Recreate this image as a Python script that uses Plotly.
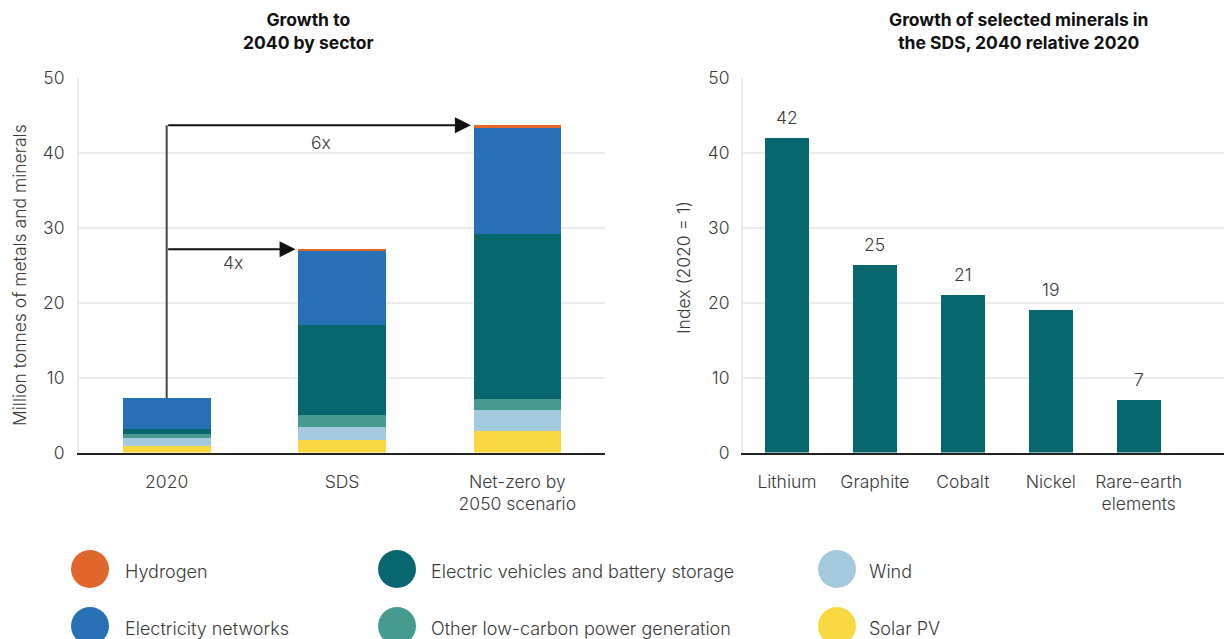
import plotly.graph_objects as go

# ---- data -------------------------------------------------------------
scenarios = ["2020", "SDS", "Net-zero by<br>2050 scenario"]
sectors = [
    "Solar PV",
    "Wind",
    "Other low-carbon power generation",
    "Electric vehicles and battery storage",
    "Electricity networks",
    "Hydrogen",
]
solar_pv = [0.9, 1.67, 2.87]
wind = [1.03, 1.73, 2.8]
other_low_carbon = [0.53, 1.6, 1.47]
ev_battery = [0.67, 12.0, 22.0]
networks = [4.13, 10.0, 14.1]
hydrogen = [0.0, 0.1, 0.4]

growth_labels = ["4x", "6x"]

minerals = ["Lithium", "Graphite", "Cobalt", "Nickel", "Rare-earth<br>elements"]
index_2040 = [42, 25, 21, 19, 7]

colors = {
    "Hydrogen": "#E0672B",
    "Electricity networks": "#2770B5",
    "Electric vehicles and battery storage": "#07666E",
    "Other low-carbon power generation": "#459B8D",
    "Wind": "#A4CADD",
    "Solar PV": "#F8D841",
}

# ---- page geometry ----------------------------------------------------
W, H = 1224, 639


def px(x):
    return x / W


def py(y):
    return 1 - y / H


FONT = "Inter"
TXT = "#3a3a3a"
LIGHT = 300


def tfont(size=17, weight=LIGHT, color=TXT):
    return dict(family=FONT, size=size, color=color, weight=weight)


fig = go.Figure()

series = [solar_pv, wind, other_low_carbon, ev_battery, networks, hydrogen]
for name, vals in zip(sectors, series):
    fig.add_trace(go.Bar(
        x=scenarios, y=vals, name=name, marker_color=colors[name],
        marker_line_width=0, width=0.5, xaxis="x", yaxis="y",
        showlegend=False, hoverinfo="x+y+name",
    ))

fig.add_trace(go.Bar(
    x=minerals, y=index_2040, marker_color="#07666E", marker_line_width=0,
    width=0.5, xaxis="x2", yaxis="y2", showlegend=False,
))

totals = [sum(v) for v in zip(*series)]

# ---- axes -------------------------------------------------------------
ydom = [py(452.5), py(77.5)]
common_y = dict(
    range=[0, 50], dtick=10, domain=ydom, showgrid=True, gridcolor="#ebebeb",
    gridwidth=2, zeroline=False, showline=True, linecolor="#ebebeb",
    linewidth=2, ticks="", tickfont=tfont(17.5), automargin=False,
)
common_x = dict(
    showline=True, linecolor="#222222", linewidth=2, ticks="",
    tickfont=tfont(17.5), ticklabelstandoff=12, automargin=False,
)

fig.update_layout(
    width=W, height=H, margin=dict(l=0, r=0, t=0, b=0, autoexpand=False),
    paper_bgcolor="white", plot_bgcolor="white", barmode="stack",
    font=dict(family=FONT, color=TXT),
    xaxis=dict(common_x, domain=[px(79), px(605)], range=[-0.5, 2.5],
               anchor="y"),
    yaxis=dict(common_y, anchor="x", ticklabelstandoff=9),
    xaxis2=dict(common_x, domain=[px(743), 1.0], range=[-0.5, 4.97],
                anchor="y2"),
    yaxis2=dict(common_y, anchor="x2", ticklabelstandoff=8),
)

shapes = []
annotations = []

# growth arrows from the 2020 total to each scenario total
shapes.append(dict(type="line", xref="x", yref="y", x0=0, x1=0,
                   y0=totals[0], y1=totals[2],
                   line=dict(color="#444444", width=2)))
for tip_x, tot, lbl, lx, ly in [(0.735, totals[1], growth_labels[0], 0.376, 25.3),
                                (1.735, totals[2], growth_labels[1], 0.88, 41.4)]:
    annotations.append(dict(
        xref="x", yref="y", axref="x", ayref="y", x=tip_x, y=tot, ax=0, ay=tot,
        text="", showarrow=True, arrowhead=2, arrowsize=1.6, arrowwidth=2,
        arrowcolor="#111111",
    ))
    annotations.append(dict(
        xref="x", yref="y", x=lx, y=ly, text=lbl, showarrow=False,
        xanchor="center", yanchor="middle", font=tfont(17.5),
    ))

# value labels on the mineral bars
for m, v in zip(minerals, index_2040):
    annotations.append(dict(
        xref="x2", yref="y2", x=m, y=v, text=str(v), showarrow=False,
        xanchor="center", yanchor="bottom", yshift=8, font=tfont(17.5),
    ))

# chart titles
annotations.append(dict(
    xref="paper", yref="paper", x=px(308), y=py(31), xanchor="center",
    yanchor="middle", text="<b>Growth to<br>2040 by sector</b>",
    showarrow=False, font=tfont(17.5, "bold", "#111111"),
))
annotations.append(dict(
    xref="paper", yref="paper", x=px(1018), y=py(31), xanchor="center",
    yanchor="middle",
    text="<b>Growth of selected minerals in<br>the SDS, 2040 relative 2020</b>",
    showarrow=False, font=tfont(17.5, "bold", "#111111"),
))

# axis titles
annotations.append(dict(
    xref="paper", yref="paper", x=px(19), y=py(275), textangle=-90,
    xanchor="center", yanchor="middle",
    text="Million tonnes of metals and minerals", showarrow=False,
    font=tfont(17.5),
))
annotations.append(dict(
    xref="paper", yref="paper", x=px(683), y=py(268), textangle=-90,
    xanchor="center", yanchor="middle",
    text="Index (2020 = 1)", showarrow=False, font=tfont(17.5),
))

# legend built from circles and labels
legend_rows = [
    ["Hydrogen", "Electric vehicles and battery storage", "Wind"],
    ["Electricity networks", "Other low-carbon power generation", "Solar PV"],
]
col_cx = [90, 397, 837]
col_tx = [123, 429, 867]
row_cy = [569, 626]
R = 19
for r, row in enumerate(legend_rows):
    for c, name in enumerate(row):
        cx, cy = col_cx[c], row_cy[r]
        shapes.append(dict(
            type="circle", xref="paper", yref="paper",
            x0=px(cx - R), x1=px(cx + R), y0=py(cy + R), y1=py(cy - R),
            fillcolor=colors[name], line=dict(width=0),
        ))
        annotations.append(dict(
            xref="paper", yref="paper", x=px(col_tx[c]), y=py(cy + 2),
            xanchor="left", yanchor="middle", text=name, showarrow=False,
            font=tfont(18),
        ))

fig.update_layout(shapes=shapes, annotations=annotations)
fig.write_html("out.html")
